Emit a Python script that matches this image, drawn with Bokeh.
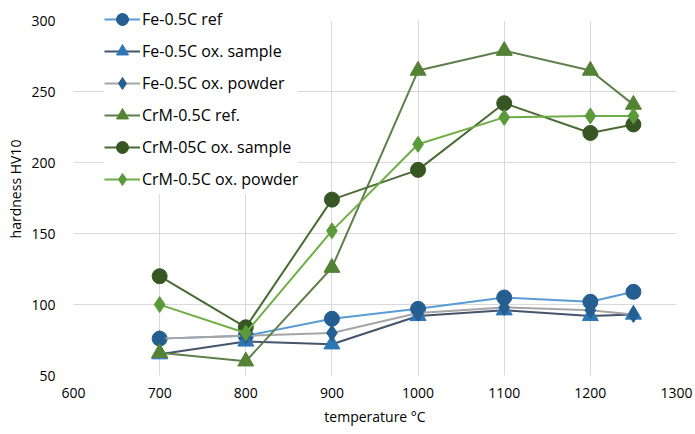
from bokeh.plotting import figure
from bokeh.models import Range1d, FixedTicker, Legend, BoxAnnotation
from bokeh.embed import file_html
from bokeh.resources import INLINE

temperature = [700, 800, 900, 1000, 1100, 1200, 1250]

fe_ref = [76, 78, 90, 97, 105, 102, 109]
fe_ox_sample = [65, 74, 72, 92, 96, 92, 93]
fe_ox_powder = [76, 78, 80, 94, 98, 96, 93]
crm_ref = [66, 60, 126, 265, 279, 265, 241]
crm_ox_sample = [120, 84, 174, 195, 242, 221, 227]
crm_ox_powder = [100, 80, 152, 213, 232, 233, 233]

labels = ["Fe-0.5C ref", "Fe-0.5C ox. sample", "Fe-0.5C ox. powder",
          "CrM-0.5C ref.", "CrM-05C ox. sample", "CrM-0.5C ox. powder"]
x_ticks = [600, 700, 800, 900, 1000, 1100, 1200, 1300]
y_ticks = [50, 100, 150, 200, 250, 300]

FONT = "Open Sans"

# a little head-room above 300 so the legend (which sits above the plot top) is not clipped
p = figure(width=695, height=434, output_backend="svg", toolbar_location=None,
           x_range=Range1d(x_ticks[0], x_ticks[-1]),
           y_range=Range1d(y_ticks[0], y_ticks[-1] + 13),
           min_border_left=73, min_border_top=2, min_border_right=19,
           min_border_bottom=59)

series = [
    (fe_ref, "circle", "#5b9bd5", "#255e91", 15),
    (fe_ox_sample, "triangle", "#44546a", "#2e75b6", 16),
    (fe_ox_powder, "diamond", "#a5a5a5", "#255e91", 16),
    (crm_ref, "triangle", "#5f7f4a", "#548235", 16),
    (crm_ox_sample, "circle", "#4b6b35", "#375623", 15),
    (crm_ox_powder, "diamond", "#70ad47", "#5b9a3a", 16),
]

# white strip that hides the vertical grid lines above the top value
mask = BoxAnnotation(bottom=y_ticks[-1], fill_color="white", fill_alpha=1.0,
                     line_color=None, level="underlay")
p.add_layout(mask)

items = []
for (vals, marker, lc, mc, size), lab in zip(series, labels):
    r1 = p.line(temperature, vals, line_color=lc, line_width=2)
    r2 = p.scatter(temperature, vals, marker=marker, size=size,
                   fill_color=mc, line_color=mc)
    items.append((lab, [r1, r2]))

legend = Legend(items=items, location=(31, 181), padding=1, margin=0,
                spacing=2, glyph_height=30, label_height=30, glyph_width=36,
                label_standoff=2, border_line_color=None,
                background_fill_color="white", background_fill_alpha=1.0,
                label_text_font=FONT, label_text_font_size="16px",
                label_text_color="#000000")
p.add_layout(legend, "center")

p.xaxis.ticker = FixedTicker(ticks=x_ticks)
p.yaxis.ticker = FixedTicker(ticks=y_ticks)
for ax in (p.xaxis, p.yaxis):
    ax.axis_line_color = None
    ax.major_tick_line_color = None
    ax.minor_tick_line_color = None
    ax.major_tick_out = 0
    ax.major_tick_in = 0
    ax.major_label_text_font = FONT
    ax.major_label_text_font_size = "14px"
    ax.major_label_text_color = "#000000"
    ax.axis_label_text_font = FONT
    ax.axis_label_text_font_size = "14px"
    ax.axis_label_text_font_style = "normal"
    ax.axis_label_text_color = "#000000"

p.xaxis.major_label_standoff = 12
p.yaxis.major_label_standoff = 18
p.xaxis.axis_label = "temperature °C"
p.yaxis.axis_label = "hardness HV10"
p.xaxis.axis_label_standoff = 6
p.yaxis.axis_label_standoff = 3

p.xgrid.grid_line_color = "#d9d9d9"
p.ygrid.grid_line_color = "#d9d9d9"
p.outline_line_color = None
p.background_fill_color = "white"
p.border_fill_color = "white"

open("out.html", "w").write(file_html(p, INLINE))
